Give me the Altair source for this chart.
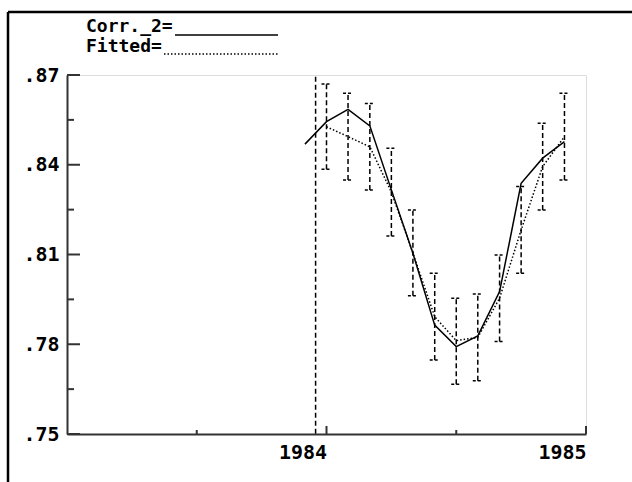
import altair as alt
import pandas as pd

# Observed (Corr._2) monthly series, Dec 1983 - Dec 1984
obs_year = [1983.917, 1984.000, 1984.083, 1984.167, 1984.250, 1984.333, 1984.417,
            1984.500, 1984.583, 1984.667, 1984.750, 1984.833, 1984.917]
obs_value = [0.8469, 0.8544, 0.8585, 0.8530, 0.8316, 0.8104, 0.7864,
             0.7792, 0.7828, 0.7976, 0.8338, 0.8422, 0.8477]

# Fitted series with its confidence band, Jan - Dec 1984
fit_year = [1984.000, 1984.083, 1984.167, 1984.250, 1984.333, 1984.417,
            1984.500, 1984.583, 1984.667, 1984.750, 1984.833, 1984.917]
fit_value = [0.8527, 0.8494, 0.8460, 0.8309, 0.8105, 0.7892,
             0.7812, 0.7823, 0.7954, 0.8182, 0.8394, 0.8494]
fit_low = [0.8385, 0.8349, 0.8316, 0.8162, 0.7962, 0.7747,
           0.7666, 0.7678, 0.7809, 0.8037, 0.8249, 0.8349]
fit_high = [0.8670, 0.8639, 0.8605, 0.8455, 0.8249, 0.8037,
            0.7954, 0.7968, 0.8098, 0.8327, 0.8539, 0.8639]

# Start-of-forecast marker
marker_year = [1983.958]
marker_top = [0.8694]

# Axis ticks
y_major = [0.75, 0.78, 0.81, 0.84, 0.87]
y_minor = [0.765, 0.795, 0.825, 0.855]
x_major = [1984, 1985]
x_minor = [1983.5, 1984.5]

FONT = "DejaVu Sans Mono"
W, H = 519, 359
INK = "#000000"
AXIS = "#333333"

obs = pd.DataFrame({"year": obs_year, "value": obs_value})
fit = pd.DataFrame({"year": fit_year, "value": fit_value, "lo": fit_low, "hi": fit_high})
marker = pd.DataFrame({"year": marker_year, "top": marker_top, "bottom": [y_major[0]]})

xs = alt.Scale(domain=[1983, 1985], nice=False, zero=False)
ys = alt.Scale(domain=[0.75, 0.87], nice=False, zero=False)

x_axis = alt.Axis(values=x_major, format="d", ticks=False, grid=False,
                  domainColor=AXIS, domainWidth=2, labelFont=FONT, labelFontSize=20,
                  labelFontWeight="bold", labelColor=INK, labelAlign="center",
                  labelOffset=-24, labelPadding=8, labelBaseline="top", title=None)
y_axis = alt.Axis(values=y_major, ticks=False, grid=False,
                  labelExpr="substring(format(datum.value, '.2f'), 1)",
                  domainColor=AXIS, domainWidth=2, labelFont=FONT, labelFontSize=20,
                  labelFontWeight="bold", labelColor=INK, labelPadding=8, title=None)

X = alt.X("year:Q", scale=xs, axis=x_axis)
Y = alt.Y("value:Q", scale=ys, axis=y_axis)

# Error bars around the fitted values
bars = alt.Chart(fit).mark_rule(color=INK, strokeWidth=1.5, strokeDash=[5, 3]).encode(
    x=alt.X("year:Q", scale=xs), y=alt.Y("lo:Q", scale=ys), y2="hi:Q")
caps_lo = alt.Chart(fit).mark_rule(color=INK, strokeWidth=1.5, strokeDash=[3, 2],
                                   xOffset=-5, x2Offset=5).encode(
    x=alt.X("year:Q", scale=xs), x2="year:Q", y=alt.Y("lo:Q", scale=ys))
caps_hi = alt.Chart(fit).mark_rule(color=INK, strokeWidth=1.5, strokeDash=[3, 2],
                                   xOffset=-5, x2Offset=5).encode(
    x=alt.X("year:Q", scale=xs), x2="year:Q", y=alt.Y("hi:Q", scale=ys))

start = alt.Chart(marker).mark_rule(color=INK, strokeWidth=1.5, strokeDash=[5, 3]).encode(
    x=alt.X("year:Q", scale=xs), y=alt.Y("top:Q", scale=ys), y2="bottom:Q")

obs_line = alt.Chart(obs).mark_line(color=INK, strokeWidth=1.5).encode(x=X, y=Y)
fit_line = alt.Chart(fit).mark_line(color=INK, strokeWidth=1.5, strokeDash=[1.5, 2]).encode(
    x=alt.X("year:Q", scale=xs), y=alt.Y("value:Q", scale=ys))

# Inward-pointing axis ticks
def yticks(vals, length):
    return alt.Chart(pd.DataFrame({"v": vals})).mark_rule(color=AXIS, strokeWidth=2).encode(
        y=alt.Y("v:Q", scale=ys), x=alt.value(0), x2=alt.value(length))

def xticks(vals, length):
    return alt.Chart(pd.DataFrame({"v": vals})).mark_rule(color=AXIS, strokeWidth=2).encode(
        x=alt.X("v:Q", scale=xs), y=alt.value(H), y2=alt.value(H - length))

one = pd.DataFrame({"k": [0]})

def label(text, x, y):
    return alt.Chart(one).mark_text(font=FONT, fontSize=18, fontWeight="bold", color=INK,
                                    align="left", baseline="alphabetic").encode(
        x=alt.value(x), y=alt.value(y), text=alt.value(text))

def key_line(x1, x2, y, dash=None):
    kw = dict(color=INK, strokeWidth=1.5)
    if dash:
        kw["strokeDash"] = dash
    return alt.Chart(one).mark_rule(**kw).encode(x=alt.value(x1), x2=alt.value(x2), y=alt.value(y))

# Outer frame (top and left edges)
frame_top = alt.Chart(one).mark_rule(color=INK, strokeWidth=2.5).encode(
    x=alt.value(-59), x2=alt.value(565), y=alt.value(-63))
frame_left = alt.Chart(one).mark_rule(color=INK, strokeWidth=2.5).encode(
    x=alt.value(-59), y=alt.value(-63), y2=alt.value(407))

chart = alt.layer(
    frame_top, frame_left,
    start, bars, caps_lo, caps_hi, fit_line, obs_line,
    yticks(y_major, 13), yticks(y_minor, 7), xticks(x_major, 8), xticks(x_minor, 4),
    label("Corr._2=", 19, -43), key_line(108, 211, -40),
    label("Fitted=", 19, -23), key_line(97, 211, -21, [1.5, 2]),
).properties(
    width=W, height=H,
    autosize=alt.AutoSizeParams(type="none"),
    padding={"left": 67, "top": 75, "right": 46, "bottom": 48},
).configure_view(stroke=None).configure(background="white")

chart.save("out.html", embed_options={"renderer": "svg", "actions": False})
